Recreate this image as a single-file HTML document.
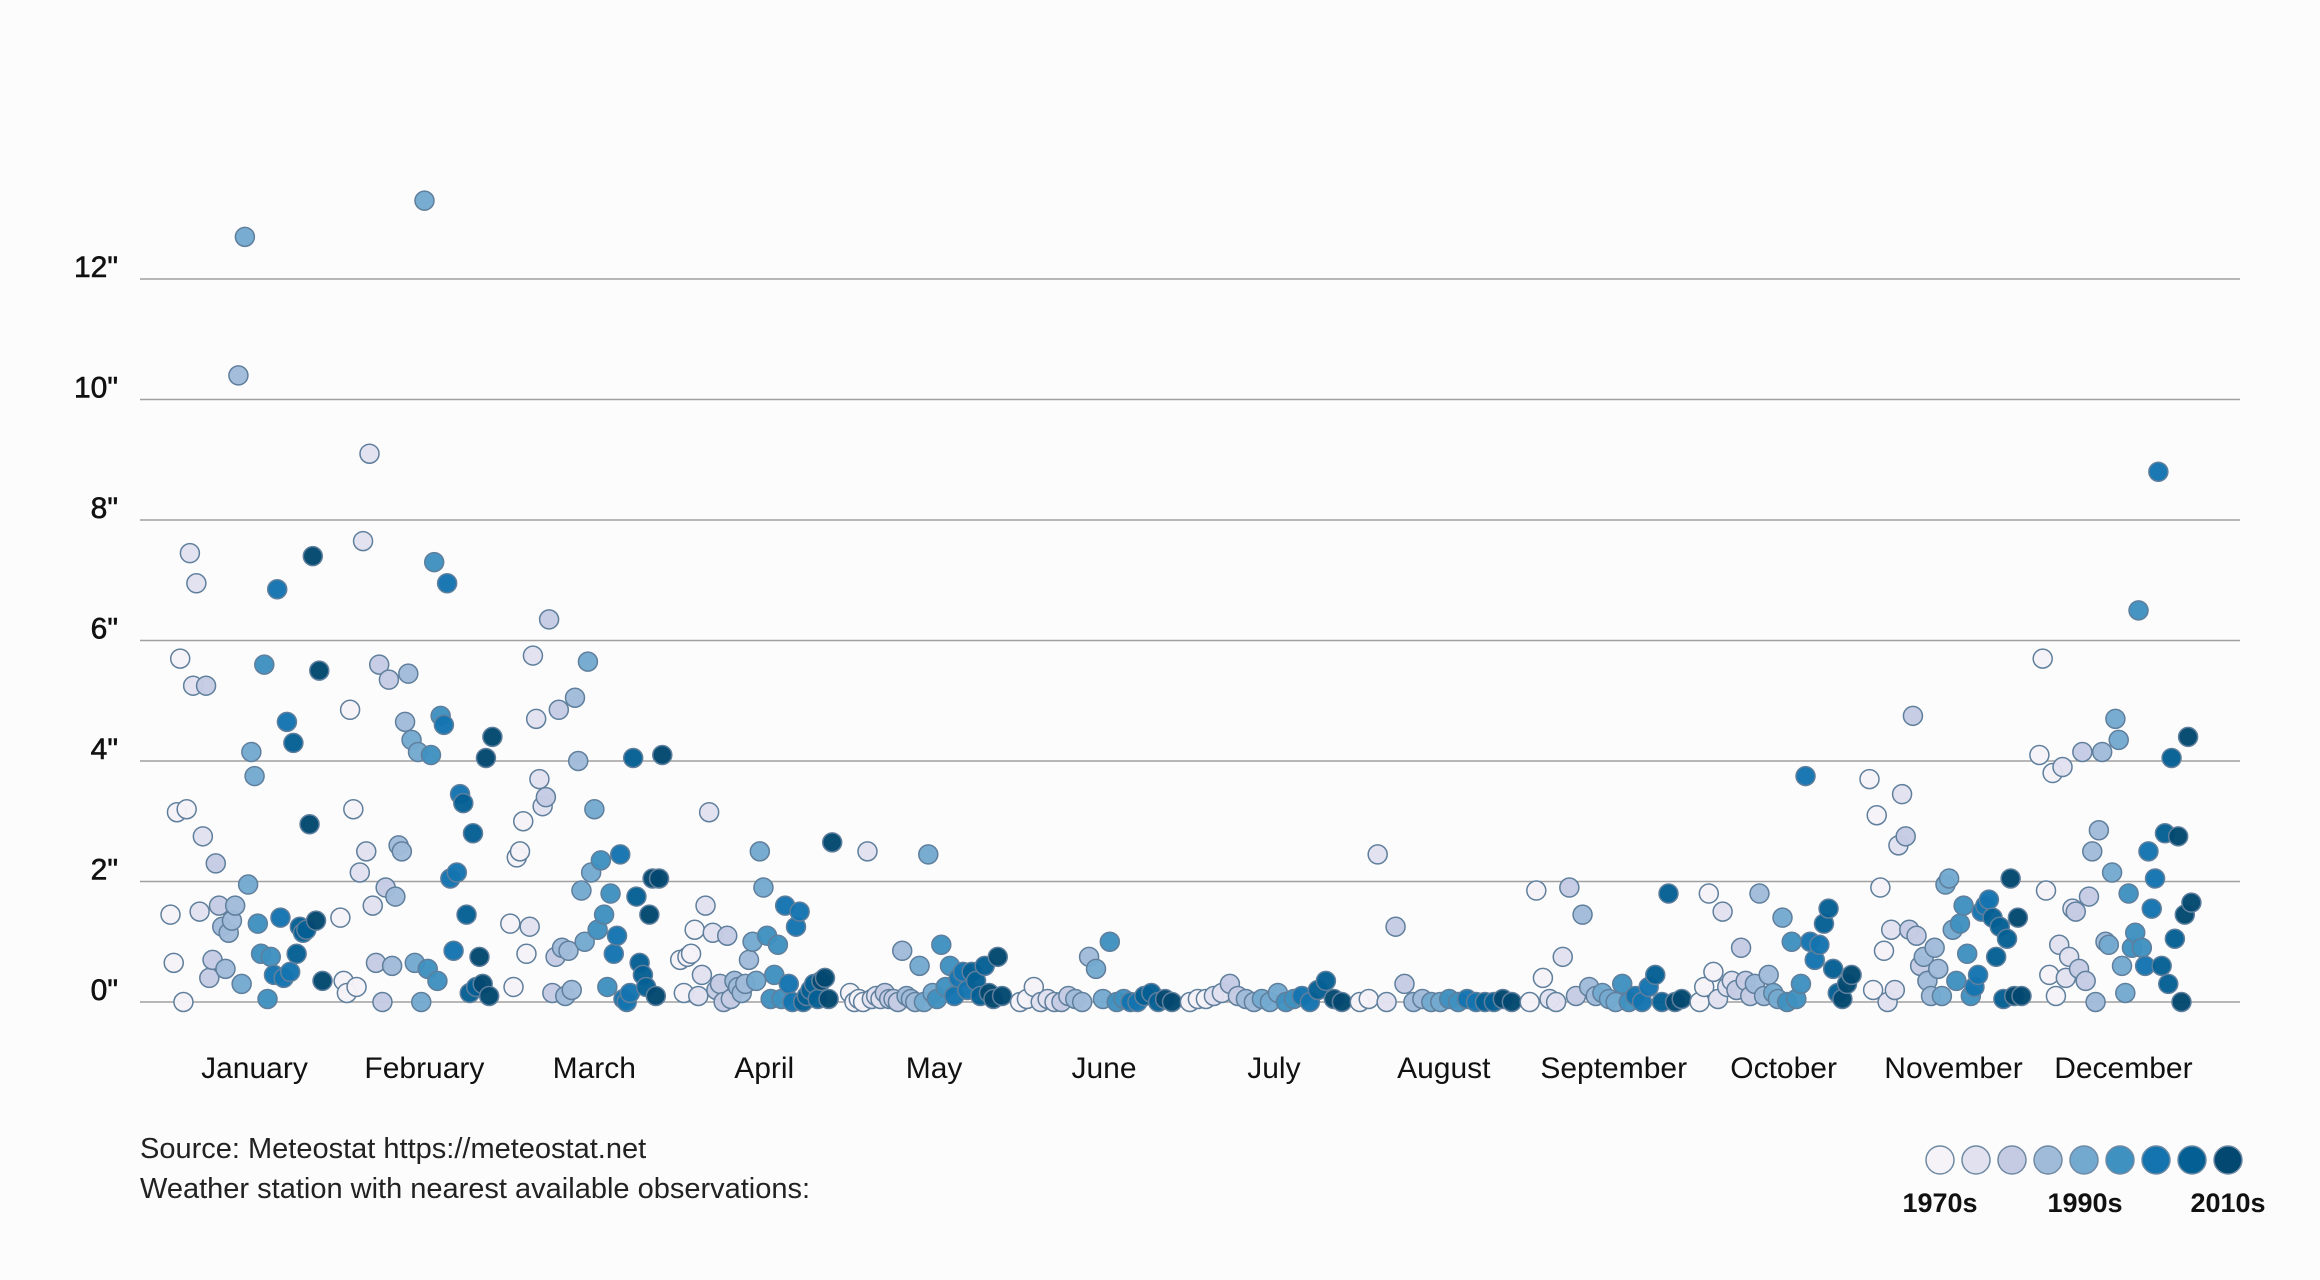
<!DOCTYPE html>
<html><head><meta charset="utf-8"><style>
html,body{margin:0;padding:0;background:#fdfcfd;}
svg{display:block;font-family:"Liberation Sans",sans-serif;}
</style></head><body>
<svg id="chart" width="2320" height="1280" viewBox="0 0 2320 1280">
<rect width="2320" height="1280" fill="#fdfcfd"/>
<g id="grid"></g>
<g id="dots"></g>
<g id="xlabels"></g>
<text x="140" y="1158" font-size="29" fill="#222">Source: Meteostat https://meteostat.net</text>
<text x="140" y="1198" font-size="29" fill="#222">Weather station with nearest available observations:</text>
<g id="legend"></g>
</svg>
<script>
const months=["January","February","March","April","May","June","July","August","September","October","November","December"];
const yTicks=[0,2,4,6,8,10,12];
const tickLabels=['0"','2"','4"','6"','8"','10"','12"'];
const jan=[1.45,0.65,3.15,5.7,0,3.2,7.45,5.25,6.95,1.5,2.75,5.25,0.4,0.7,2.3,1.6,1.25,0.55,1.15,1.35,1.6,10.4,0.3,12.7,1.95,4.15,3.75,1.3,0.8,5.6,0.05,0.75,0.45,6.85,1.4,0.4,4.65,0.5,4.3,0.8,1.25,1.15,1.2,2.95,7.4,1.35,5.5,0.35];
const feb=[1.4,0.35,0.15,4.85,3.2,0.25,2.15,7.65,2.5,9.1,1.6,0.65,5.6,0,1.9,5.35,0.6,1.75,2.6,2.5,4.65,5.45,4.35,0.65,4.15,0,13.3,0.55,4.1,7.3,0.35,4.75,4.6,6.95,2.05,0.85,2.15,3.45,3.3,1.45,0.15,2.8,0.25,0.75,0.3,4.05,0.1,4.4];
const mar=[1.3,0.25,2.4,2.5,3.0,0.8,1.25,5.75,4.7,3.7,3.25,3.4,6.35,0.15,0.75,4.85,0.9,0.1,0.85,0.2,5.05,4.0,1.85,1.0,5.65,2.15,3.2,1.2,2.35,1.45,0.25,1.8,0.8,1.1,2.45,0.05,0,0.15,4.05,1.75,0.65,0.45,0.25,1.45,2.05,0.1,2.05,4.1];
const apr=[0.7,0.15,0.75,0.8,1.2,0.1,0.45,1.6,3.15,1.15,0.2,0.3,0,1.1,0.05,0.35,0.25,0.15,0.3,0.7,1.0,0.35,2.5,1.9,1.1,0.05,0.45,0.95,0.05,1.6,0.3,0,1.25,1.5,0,0.1,0.2,0.3,0.05,0.35,0.4,0.05,2.65];
const may=[0.15,0,0.05,0,2.5,0.05,0.1,0.05,0.15,0.05,0.05,0,0.85,0.1,0.05,0,0.6,0,2.45,0.15,0.05,0.95,0.25,0.6,0.1,0.4,0.5,0.2,0.5,0.35,0.1,0.6,0.15,0.05,0.75,0.1];
const jun=[0,0.05,0.25,0,0.05,0,0,0.1,0.05,0,0.75,0.55,0.05,1.0,0,0.05,0,0,0.1,0.15,0,0.05,0];
const jul=[0,0.05,0.05,0.1,0.15,0.3,0.1,0.05,0,0.05,0,0.15,0,0.05,0.1,0,0.2,0.35,0.05,0];
const aug=[0,0.05,2.45,0,1.25,0.3,0,0.05,0,0,0.05,0,0.05,0,0,0,0.05,0];
const sep=[0,1.85,0.4,0.05,0,0.75,1.9,0.1,1.45,0.25,0.1,0.15,0.05,0,0.3,0,0.1,0,0.25,0.45,0,1.8,0,0.05];
const oct=[0,0.25,1.8,0.5,0.05,1.5,0.25,0.35,0.2,0.9,0.35,0.1,0.3,1.8,0.1,0.45,0.15,0.05,1.4,0,1.0,0.05,0.3,3.75,1.0,0.7,0.95,1.3,1.55,0.55,0.15,0.05,0.3,0.45];
const nov=[3.7,0.2,3.1,1.9,0.85,0,1.2,0.2,2.6,3.45,2.75,1.2,4.75,1.1,0.6,0.75,0.35,0.1,0.9,0.55,0.1,1.95,2.05,1.2,0.35,1.3,1.6,0.8,0.1,0.25,0.45,1.5,1.6,1.7,1.4,0.75,1.25,0.05,1.05,2.05,0.1,1.4,0.1];
const dec=[4.1,5.7,1.85,0.45,3.8,0.1,0.95,3.9,0.4,0.75,1.55,1.5,0.55,4.15,0.35,1.75,2.5,0,2.85,4.15,1.0,0.95,2.15,4.7,4.35,0.6,0.15,1.8,0.9,1.15,6.5,0.9,0.6,2.5,1.55,2.05,8.8,0.6,2.8,0.3,4.05,1.05,2.75,0,1.45,4.4,1.65];
const monthValues=[jan,feb,mar,apr,may,jun,jul,aug,sep,oct,nov,dec];
const decadeLabels=["1970s","1990s","2010s"];
const colors=["#f5f2f8","#e1e1ef","#c5cbe3","#a0bbd9","#74a9cf","#3f91c0","#1474b0","#045f94","#034870"];
const NS="http://www.w3.org/2000/svg";
function yScale(v){return 1002-v*60.25;}
function monthCenter(m){return 254.5+m*169.9;}
function mk(tag,attrs,parent){const e=document.createElementNS(NS,tag);for(const k in attrs)e.setAttribute(k,attrs[k]);parent.appendChild(e);return e;}
const grid=document.getElementById('grid');
yTicks.forEach((t,i)=>{
  const l=mk('line',{x1:140,x2:2240,y1:yScale(t),y2:yScale(t),stroke:'#a0a0a0','stroke-width':1.5},grid);
  
  
  const tx=mk('text',{x:118,y:yScale(t)-2,'text-anchor':'end','font-size':30,fill:'#111',stroke:'#111','stroke-width':0.6},grid);
  
  
  tx.textContent=tickLabels[i];
});
const xl=document.getElementById('xlabels');
months.forEach((m,i)=>{
  const t=mk('text',{x:monthCenter(i),y:1078,'text-anchor':'middle','font-size':30,fill:'#111'},xl);
  
  
  t.textContent=m;
});
const dots=document.getElementById('dots');
monthValues.forEach((vals,m)=>{
  const n=vals.length;
  vals.forEach((v,i)=>{
    const x=monthCenter(m)-8+(i/(n-1)-0.5)*152;
    const c=mk('circle',{cx:x,cy:yScale(v),r:9.5,fill:colors[Math.min(8,Math.floor(i/n*9))],stroke:'#5f7f9c','stroke-width':1.5,'fill-opacity':0.97},dots);
    
    
  });
});
const lg=document.getElementById('legend');
colors.forEach((c,i)=>{
  const e=mk('circle',{cx:1940+i*36,cy:1160,r:14,fill:c,stroke:'#6e8aa3','stroke-width':1.5},lg);
  
  
});
[1940,2085,2228].forEach((x,i)=>{
  const t=mk('text',{x:x,y:1212,'text-anchor':'middle','font-size':27,'font-weight':'bold',fill:'#111'},lg);
  
  
  t.textContent=decadeLabels[i];
});
</script>
</body></html>
